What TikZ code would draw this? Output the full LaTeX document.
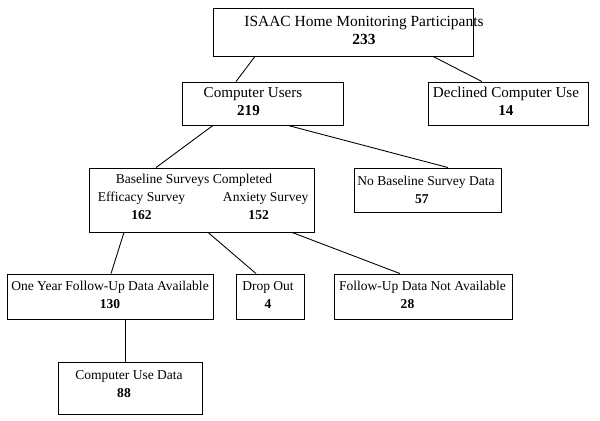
\documentclass[tikz,border=0pt]{standalone}
\usepackage{fontspec}
\setmainfont{Liberation Serif}
\usetikzlibrary{calc}

\begin{document}
\begin{tikzpicture}[x=0.02cm, y=-0.02cm,
  box/.style={draw, line width=0.5pt, inner sep=0pt},
  link/.style={line width=0.5pt},
  txt/.style={align=center, inner sep=0pt, font=\fontsize{7.7}{10.2}\selectfont}]
  \useasboundingbox (0,0) rectangle (600,421);

  % Boxes
  \node[box, minimum width=5.2cm, minimum height=0.96cm] (top) at (343,32) {};
  \node[box, minimum width=3.22cm, minimum height=0.86cm] (cu) at (262.5,103.5) {};
  \node[box, minimum width=3.2cm, minimum height=0.86cm] (dec) at (508,103.5) {};
  \node[box, minimum width=4.5cm, minimum height=1.28cm] (base) at (201.5,200) {};
  \node[box, minimum width=2.94cm, minimum height=0.88cm] (nob) at (427.5,190) {};
  \node[box, minimum width=4.12cm, minimum height=0.9cm] (one) at (110,296.5) {};
  \node[box, minimum width=1.36cm, minimum height=0.9cm] (drop) at (270,296.5) {};
  \node[box, minimum width=3.56cm, minimum height=0.9cm] (funa) at (423,296.5) {};
  \node[box, minimum width=2.88cm, minimum height=1.04cm] (cud) at (130,388) {};

  % Labels
  \node[txt, font=\fontsize{8.8}{10.2}\selectfont] (toptxt) at (364,30.5) {ISAAC Home Monitoring Participants\\\textbf{233}};
  \node[txt, font=\fontsize{8.6}{10.2}\selectfont] (cutxt) at (253,101.5) {Computer Users\\\textbf{219}\hspace*{0.18cm}};
  \node[txt, font=\fontsize{8.6}{10.2}\selectfont] (dectxt) at (506,101.5) {Declined Computer Use\\\textbf{14}};
  \node[txt] (basetxt) at (204,198) {\setlength{\tabcolsep}{0.36cm}%
    \begin{tabular}{@{}cc@{}}
      \multicolumn{2}{c}{Baseline Surveys Completed\hspace*{0.4cm}}\\
      Efficacy Survey & Anxiety Survey\\
      \textbf{162} & \textbf{152}\hspace*{0.28cm}
    \end{tabular}};
  \node[txt] (nobtxt) at (426,189.5) {No Baseline Survey Data\\\textbf{57}\hspace*{0.16cm}};
  \node[txt] (onetxt) at (110,295) {One Year Follow-Up Data Available\\\textbf{130}};
  \node[txt] (droptxt) at (268,295) {Drop Out\\\textbf{4}};
  \node[txt] (funatxt) at (422.5,295) {Follow-Up Data Not Available\\\textbf{28}\hspace*{0.6cm}};
  \node[txt] (cudtxt) at (129,384) {Computer Use Data\\\textbf{88}\hspace*{0.2cm}};

  % Connectors
  \draw[link] ($(top.south)+(-88,0)$) -- ($(cu.north)+(-26.5,0)$);
  \draw[link] ($(top.south)+(90,0)$) -- ($(dec.north)+(-26,0)$);
  \draw[link] ($(cu.south)+(-49.5,0)$) -- ($(base.north)+(-45.5,0)$);
  \draw[link] ($(cu.south)+(25.5,0)$) -- ($(nob.north)+(20.5,0)$);
  \draw[link] ($(base.south)+(-77.5,0)$) -- ($(one.north)+(1,0)$);
  \draw[link] ($(base.south)+(6.5,0)$) -- ($(drop.north)+(-14,0)$);
  \draw[link] ($(base.south)+(90.5,0)$) -- ($(funa.north)+(-23,0)$);
  \draw[link] ($(one.south)+(15,0)$) -- ($(cud.north)+(-5,0)$);
\end{tikzpicture}
\end{document}
